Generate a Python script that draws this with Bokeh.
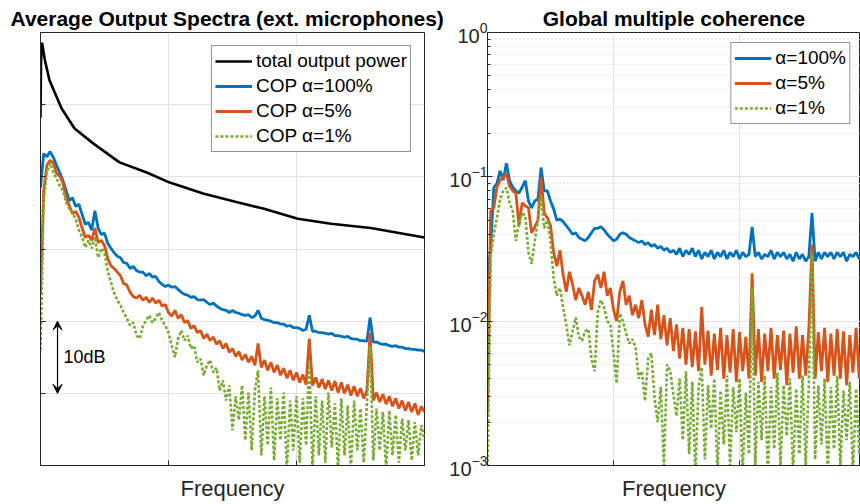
import numpy as np
from bokeh.plotting import figure
from bokeh.layouts import row
from bokeh.models import (Range1d, FixedTicker, LogTicker, Legend, LegendItem,
                          Arrow, VeeHead, Label, CustomJSTickFormatter)
from bokeh.embed import file_html
from bokeh.resources import INLINE

# ---------------- data ----------------
# frequency bins (normalised units, 0..3)
freq = np.linspace(0.0, 3.0, 121)

# total output power (smooth curve), dB
black_freq = [0.0, 0.004, 0.012, 0.035, 0.07, 0.164, 0.266, 0.414, 0.617, 0.83, 1.01,
              1.27, 1.53, 1.74, 2.01, 2.27, 2.58, 3.0]
black_db = [-11.8, -4.0, -1.4, -3.9, -6.6, -10.5, -13.3, -15.4, -18.0, -19.4, -20.8,
            -22.3, -23.5, -24.4, -25.8, -26.5, -27.1, -28.4]

cop100_db = [
    -21.5, -16.8, -17.2, -16.5, -17.3, -18.4, -19.4, -20.5, -21.9, -23.3,
    -22.9, -24.1, -23.8, -25.2, -26.6, -26.3, -27.4, -24.7, -27.1, -28.0,
    -27.8, -29.2, -29.9, -30.5, -31.0, -31.2, -31.9, -32.0, -32.7, -32.4,
    -33.0, -33.2, -33.2, -33.7, -33.4, -33.9, -33.8, -34.5, -34.9, -35.2,
    -35.0, -35.3, -35.2, -35.6, -36.0, -36.3, -36.4, -36.7, -36.6, -37.0,
    -37.1, -37.0, -37.4, -37.7, -37.5, -37.9, -38.2, -38.4, -38.5, -38.8,
    -38.5, -38.8, -38.9, -39.1, -39.2, -39.1, -39.5, -39.3, -38.5, -39.6,
    -39.8, -39.9, -40.0, -40.2, -40.2, -40.4, -40.4, -40.7, -40.6, -40.9,
    -40.9, -41.0, -41.3, -41.1, -39.2, -41.4, -41.4, -41.6, -41.6, -41.7,
    -41.8, -41.7, -42.0, -42.0, -42.1, -42.2, -42.1, -42.4, -42.5, -42.5,
    -42.7, -42.7, -42.8, -39.5, -42.9, -42.9, -43.1, -43.2, -43.2, -43.4,
    -43.5, -43.4, -43.6, -43.6, -43.8, -43.8, -43.9, -43.9, -44.0, -44.0, -44.2]

cop5_db = [
    -36.0, -21.9, -18.4, -17.7, -18.1, -19.5, -19.9, -20.8, -22.9, -24.0,
    -25.1, -24.8, -25.6, -27.1, -28.4, -28.1, -28.8, -27.1, -29.1, -28.8,
    -29.5, -31.3, -32.3, -32.7, -33.2, -33.7, -34.8, -35.0, -36.0, -36.6,
    -36.8, -36.4, -37.1, -36.7, -37.4, -36.8, -37.5, -37.1, -37.9, -37.7,
    -38.8, -39.3, -38.5, -39.6, -39.1, -40.2, -39.9, -41.0, -40.6, -41.6,
    -41.3, -42.4, -41.8, -42.7, -42.2, -43.2, -42.7, -43.8, -43.1, -44.3,
    -43.8, -44.9, -44.2, -45.4, -44.6, -45.7, -44.9, -46.1, -43.1, -46.4,
    -45.4, -46.8, -45.7, -47.1, -46.1, -47.5, -46.5, -47.9, -46.8, -48.2,
    -47.1, -48.5, -47.4, -48.8, -42.4, -48.9, -47.8, -49.2, -48.0, -49.4,
    -48.2, -49.6, -48.3, -49.9, -48.5, -50.0, -48.8, -50.3, -49.0, -50.4,
    -49.3, -50.7, -49.6, -41.6, -51.0, -49.9, -51.2, -50.1, -51.5, -50.4,
    -51.8, -50.7, -52.1, -51.0, -52.4, -51.2, -52.6, -51.4, -53.0, -51.8, -52.6]

cop1_db = [
    -44.0, -23.3, -19.4, -18.1, -19.4, -20.2, -21.2, -21.9, -23.5, -24.4,
    -25.1, -25.8, -27.4, -28.3, -29.8, -28.8, -29.9, -28.3, -31.2, -29.9,
    -30.5, -33.0, -34.6, -36.1, -37.1, -37.8, -38.8, -39.6, -40.6, -40.2,
    -42.0, -42.4, -40.7, -39.9, -39.2, -40.2, -39.6, -38.8, -39.9, -40.6,
    -41.6, -43.4, -45.0, -42.4, -41.3, -42.7, -42.0, -43.8, -43.4, -45.7,
    -45.2, -47.5, -46.1, -45.4, -47.1, -46.5, -49.6, -48.2, -51.0, -48.9,
    -55.1, -50.4, -53.7, -48.9, -56.5, -49.9, -57.9, -49.6, -46.8, -58.6,
    -50.4, -57.2, -49.2, -59.3, -50.7, -56.5, -49.9, -60.5, -51.0, -57.9,
    -50.4, -59.6, -50.7, -57.2, -45.4, -60.5, -50.4, -58.6, -51.0, -59.6,
    -49.9, -57.5, -51.4, -60.5, -50.7, -58.6, -51.7, -60.5, -51.0, -57.9,
    -52.1, -59.6, -51.4, -43.4, -59.3, -52.1, -57.9, -52.6, -60.5, -52.4,
    -58.6, -53.0, -59.6, -53.5, -57.9, -53.7, -59.3, -54.0, -58.6, -54.4, -56.5]

coh100 = [
    0.020, 0.032, 0.084, 0.090, 0.110, 0.095, 0.124, 0.094, 0.085, 0.080,
    0.077, 0.085, 0.094, 0.068, 0.061, 0.068, 0.070, 0.116, 0.080, 0.080,
    0.068, 0.060, 0.050, 0.051, 0.049, 0.046, 0.043, 0.040, 0.041, 0.038,
    0.037, 0.036, 0.038, 0.041, 0.044, 0.044, 0.045, 0.043, 0.040, 0.038,
    0.036, 0.037, 0.040, 0.041, 0.040, 0.038, 0.037, 0.036, 0.035, 0.036,
    0.034, 0.035, 0.033, 0.034, 0.032, 0.033, 0.031, 0.032, 0.030, 0.031,
    0.029, 0.032, 0.028, 0.031, 0.029, 0.032, 0.028, 0.031, 0.027, 0.030,
    0.028, 0.031, 0.027, 0.030, 0.028, 0.031, 0.027, 0.030, 0.028, 0.031,
    0.027, 0.030, 0.028, 0.029, 0.045, 0.028, 0.030, 0.027, 0.029, 0.028,
    0.031, 0.027, 0.030, 0.028, 0.030, 0.027, 0.029, 0.026, 0.030, 0.027,
    0.029, 0.026, 0.028, 0.056, 0.026, 0.030, 0.027, 0.030, 0.028, 0.030,
    0.027, 0.030, 0.028, 0.030, 0.026, 0.029, 0.028, 0.030, 0.027, 0.029, 0.028]

coh5 = [
    0.0023, 0.058, 0.061, 0.085, 0.095, 0.099, 0.105, 0.086, 0.080, 0.077,
    0.046, 0.066, 0.063, 0.061, 0.041, 0.045, 0.050, 0.099, 0.056, 0.052,
    0.046, 0.030, 0.024, 0.031, 0.021, 0.016, 0.022, 0.018, 0.014, 0.017,
    0.015, 0.013, 0.016, 0.012, 0.019, 0.021, 0.017, 0.022, 0.015, 0.017,
    0.012, 0.010, 0.016, 0.019, 0.013, 0.015, 0.011, 0.013, 0.0105, 0.014,
    0.0095, 0.0078, 0.012, 0.0080, 0.013, 0.0075, 0.0110, 0.0068, 0.0105, 0.0062,
    0.0095, 0.0055, 0.0090, 0.0050, 0.0088, 0.0048, 0.0085, 0.0045, 0.0125, 0.0050,
    0.0086, 0.0042, 0.0082, 0.0046, 0.0090, 0.0040, 0.0080, 0.0044, 0.0088, 0.0038,
    0.0084, 0.0045, 0.0078, 0.0040, 0.0215, 0.0042, 0.0088, 0.0038, 0.0082, 0.0045,
    0.0090, 0.0040, 0.0080, 0.0046, 0.0086, 0.0036, 0.0082, 0.0044, 0.0092, 0.0040,
    0.0080, 0.0042, 0.0088, 0.034, 0.0040, 0.0084, 0.0045, 0.0090, 0.0038, 0.0082,
    0.0042, 0.0088, 0.0040, 0.0085, 0.0036, 0.0080, 0.0044, 0.0090, 0.0040, 0.0084, 0.0046]

coh1 = [
    0.0009, 0.028, 0.040, 0.052, 0.070, 0.080, 0.084, 0.066, 0.058, 0.036,
    0.048, 0.056, 0.054, 0.030, 0.025, 0.036, 0.050, 0.075, 0.044, 0.050,
    0.036, 0.020, 0.015, 0.017, 0.0125, 0.0095, 0.0068, 0.0085, 0.0106, 0.0078,
    0.0073, 0.0085, 0.0088, 0.0055, 0.0045, 0.0115, 0.0140, 0.0125, 0.0100, 0.0095,
    0.0060, 0.0037, 0.0113, 0.0100, 0.0082, 0.0070, 0.0075, 0.0066, 0.0040, 0.0045,
    0.0028, 0.0055, 0.0060, 0.0030, 0.0020, 0.0035, 0.0010, 0.0050, 0.0045, 0.0031,
    0.0022, 0.0040, 0.0015, 0.0045, 0.0012, 0.0038, 0.0009, 0.0035, 0.0048, 0.0011,
    0.0036, 0.0018, 0.0040, 0.0009, 0.0033, 0.0014, 0.0042, 0.0010, 0.0035, 0.0017,
    0.0040, 0.0009, 0.0032, 0.0012, 0.0170, 0.0010, 0.0038, 0.0015, 0.0042, 0.0009,
    0.0035, 0.0013, 0.0044, 0.0010, 0.0036, 0.0016, 0.0040, 0.0009, 0.0034, 0.0012,
    0.0042, 0.0010, 0.0037, 0.030, 0.0011, 0.0036, 0.0014, 0.0040, 0.0009, 0.0035,
    0.0013, 0.0042, 0.0010, 0.0033, 0.0015, 0.0038, 0.0009, 0.0034, 0.0012, 0.0030, 0.0011]

left_yticks = [-60, -50, -40, -30, -20, -10, 0]
x_ticks = [0, 1, 2, 3]
left_labels = ["total output power", "COP \u03b1=100%", "COP \u03b1=5%", "COP \u03b1=1%"]
right_labels = ["\u03b1=100%", "\u03b1=5%", "\u03b1=1%"]
titles = ["Average Output Spectra (ext. microphones)", "Global multiple coherence"]
xlabel = "Frequency"
scale_text = "10dB"
scale_x, scale_top, scale_bottom, scale_text_x = 0.133, -40, -50, 0.18

# ---------------- style ----------------
FONT = "Liberation Sans"
AX = "#262626"
GRID = "#e2e2e2"
MINOR = "#cfcfcf"
BLUE, ORANGE, GREEN = "#0072BD", "#D95319", "#77AC30"
LW = 2.8
BLANK = CustomJSTickFormatter(code="return ''")


def style(p):
    p.outline_line_color = AX
    p.outline_line_width = 1
    p.background_fill_color = "white"
    p.border_fill_color = "white"
    p.title.text_font = FONT
    p.title.text_font_size = "21px"
    p.title.text_font_style = "bold"
    p.title.text_color = "black"
    p.title.standoff = 5
    for ax in p.axis:
        ax.axis_line_color = AX
        ax.major_tick_line_color = AX
        ax.minor_tick_line_color = AX
        ax.major_tick_in = 5
        ax.major_tick_out = 0
        ax.minor_tick_in = 3
        ax.minor_tick_out = 0
        ax.major_label_text_color = AX
        ax.major_label_text_font = FONT
        ax.axis_label_text_font = FONT
        ax.axis_label_text_color = AX
        ax.axis_label_text_font_style = "normal"
    p.xaxis.axis_label = xlabel
    p.xaxis.axis_label_text_font_size = "22px"
    p.xaxis.formatter = BLANK
    p.xaxis.major_label_standoff = 0
    p.xaxis.axis_label_standoff = 10
    p.xaxis.ticker = FixedTicker(ticks=x_ticks)
    p.xaxis.minor_tick_line_color = None
    p.xgrid.ticker = FixedTicker(ticks=x_ticks)
    p.grid.grid_line_color = GRID
    p.grid.grid_line_width = 1


def style_legend(leg, margin):
    leg.label_text_font = FONT
    leg.label_text_font_size = "19px"
    leg.label_text_color = "black"
    leg.glyph_width = 37
    leg.glyph_height = 20
    leg.label_height = 24
    leg.label_standoff = 4
    leg.spacing = 1
    leg.padding = 3
    leg.margin = margin
    leg.border_line_color = AX
    leg.border_line_width = 1
    leg.background_fill_color = "white"
    leg.background_fill_alpha = 1


# ---------------- left panel ----------------
p1 = figure(width=444, height=504, output_backend="svg", toolbar_location=None,
            x_range=Range1d(0, 3), y_range=Range1d(-60, 0),
            min_border_left=40, min_border_right=20, min_border_top=32,
            min_border_bottom=39, title=titles[0])
style(p1)
p1.title.align = "left"
p1.title.offset = -30
p1.yaxis.ticker = FixedTicker(ticks=left_yticks)
p1.ygrid.ticker = FixedTicker(ticks=left_yticks)
p1.yaxis.formatter = BLANK
p1.yaxis.major_label_standoff = 0

rb = p1.line(black_freq, black_db, line_color="black", line_width=2.6)
r100 = p1.line(freq, cop100_db, line_color=BLUE, line_width=LW)
r5 = p1.line(freq, cop5_db, line_color=ORANGE, line_width=LW)
r1 = p1.line(freq, cop1_db, line_color=GREEN, line_width=2.6, line_dash="3 2")

arrow = Arrow(start=VeeHead(size=9, fill_color="black", line_color="black"),
              end=VeeHead(size=9, fill_color="black", line_color="black"),
              x_start=scale_x, y_start=scale_top, x_end=scale_x, y_end=scale_bottom,
              line_width=1.2, line_color="black")
p1.add_layout(arrow)
p1.add_layout(Label(x=scale_text_x, y=(scale_top + scale_bottom) / 2, text=scale_text,
                    text_font=FONT, text_font_size="18px", text_baseline="middle",
                    text_color="black"))

leg1 = Legend(items=[LegendItem(label=lab, renderers=[r]) for lab, r in
                     zip(left_labels, [rb, r100, r5, r1])],
              location="top_right")
style_legend(leg1, 13)
p1.add_layout(leg1)

# ---------------- right panel ----------------
p2 = figure(width=416, height=504, output_backend="svg", toolbar_location=None,
            x_range=Range1d(0, 2.96), y_range=Range1d(1e-3, 1), y_axis_type="log",
            min_border_left=43, min_border_right=0, min_border_top=32,
            min_border_bottom=39, title=titles[1])
style(p2)
p2.title.align = "center"
p2.yaxis.ticker = LogTicker(mantissas=[1], num_minor_ticks=10)
p2.ygrid.ticker = LogTicker(mantissas=[1], num_minor_ticks=10)
p2.yaxis.major_label_text_font_size = "20px"
p2.yaxis.major_label_standoff = 0
p2.ygrid.minor_grid_line_color = MINOR
p2.ygrid.minor_grid_line_dash = "1 3"

q100 = p2.line(freq, coh100, line_color=BLUE, line_width=LW)
q5 = p2.line(freq, coh5, line_color=ORANGE, line_width=LW)
q1 = p2.line(freq, coh1, line_color=GREEN, line_width=2.6, line_dash="3 2")

leg2 = Legend(items=[LegendItem(label=lab, renderers=[r]) for lab, r in
                     zip(right_labels, [q100, q5, q1])],
              location="top_right")
style_legend(leg2, 10)
p2.add_layout(leg2)

layout = row(p1, p2)
open("out.html", "w").write(file_html(layout, INLINE))
